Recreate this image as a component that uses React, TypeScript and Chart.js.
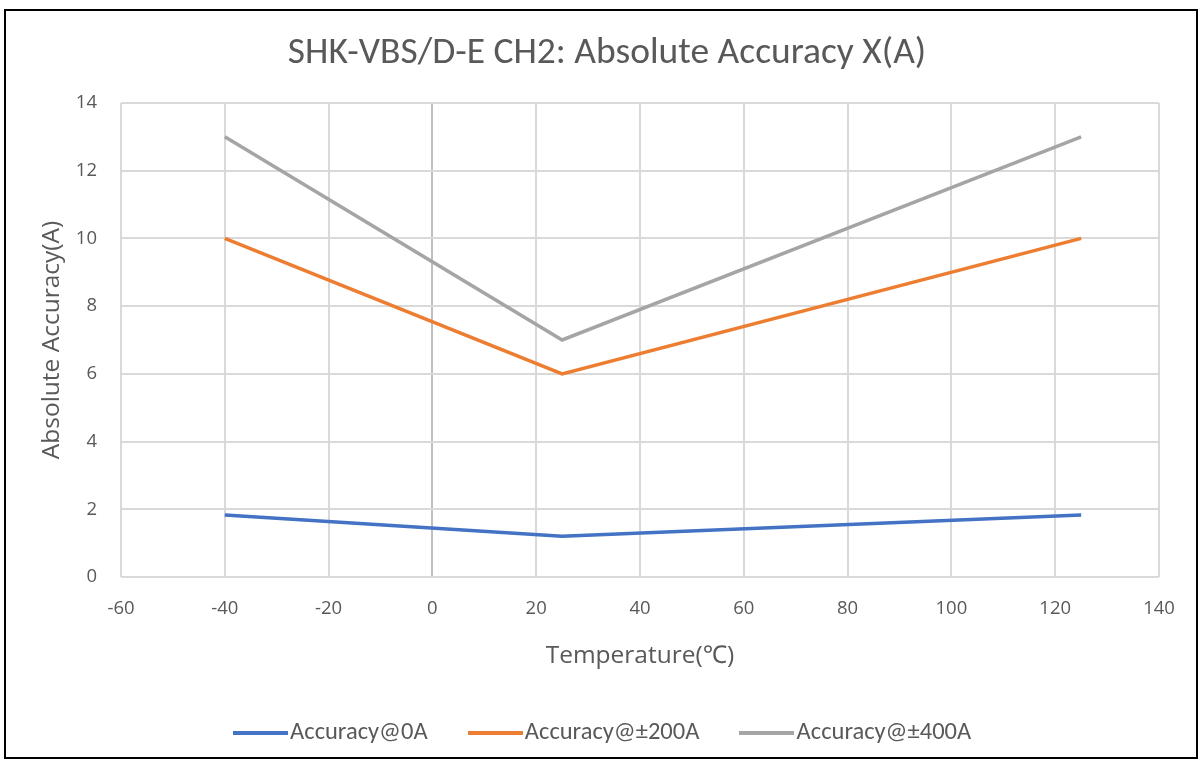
import React, { useEffect, useRef } from "react";
import { Chart, registerables } from "chart.js";

Chart.register(...registerables);

const chartTitle = "SHK-VBS/D-E CH2: Absolute Accuracy X(A)";
const xAxisTitle = "Temperature(℃)";
const yAxisTitle = "Absolute Accuracy(A)";
const temperatures = [-40, 25, 125];
const seriesNames = ["Accuracy@0A", "Accuracy@±200A", "Accuracy@±400A"];
const acc0A = [1.83, 1.2, 1.83];
const acc200A = [10, 6, 10];
const acc400A = [13, 7, 13];
const seriesColors = ["#4472C4", "#ED7D31", "#A5A5A5"];

const TEXT = "#595959";
const GRID = "#d9d9d9";
const TITLE_FONT = "Carlito, Lato, sans-serif";
const TICK_FONT = "'Open Sans', 'Noto Sans', sans-serif";

const frame = {
  id: "frame",
  afterDraw(chart: any) {
    const c = chart.ctx;
    c.save();
    c.strokeStyle = "#000";
    c.lineWidth = 2;
    c.strokeRect(5, 10, 1192, 748);
    c.restore();
  },
};

function makeSwatch(color: string) {
  const c = document.createElement("canvas");
  c.width = 55;
  c.height = 4;
  const g = c.getContext("2d");
  if (g) {
    g.fillStyle = color;
    g.fillRect(0, 0, 55, 4);
  }
  return c;
}

export default function App() {
  const ref = useRef<HTMLCanvasElement | null>(null);
  useEffect(() => {
    if (!ref.current) return;
    const all = [acc0A, acc200A, acc400A];
    const swatches = seriesColors.map(makeSwatch);
    const chart = new Chart(ref.current, {
      type: "line",
      data: {
        datasets: all.map((vals, i) => ({
          label: seriesNames[i],
          data: temperatures.map((t, j) => ({ x: t, y: vals[j] })),
          borderColor: seriesColors[i],
          backgroundColor: seriesColors[i],
          borderWidth: 3.5,
          pointRadius: 0,
          tension: 0,
        })),
      },
      options: {
        responsive: false,
        animation: false,
        layout: { padding: { top: 12, left: 16, right: 2, bottom: 9.75 } },
        plugins: {
          title: {
            display: true,
            text: chartTitle,
            color: TEXT,
            font: { family: TITLE_FONT, size: 37.5, weight: "normal" },
            padding: { top: 19, bottom: 27 },
          },
          legend: {
            position: "bottom",
            labels: {
              color: TEXT,
              font: { family: TITLE_FONT, size: 24.5 },
              usePointStyle: true,
              pointStyleWidth: 35,
              padding: 50,
              generateLabels: (ch: any) =>
                Chart.defaults.plugins.legend.labels
                  .generateLabels(ch)
                  .map((it: any) => ({ ...it, pointStyle: swatches[it.datasetIndex] })),
            },
          },
          tooltip: { enabled: false },
        },
        scales: {
          x: {
            type: "linear",
            min: -60,
            max: 140,
            ticks: {
              stepSize: 20,
              color: TEXT,
              font: { family: TICK_FONT, size: 18.5 },
              padding: 21,
            },
            grid: {
              drawTicks: false,
              lineWidth: 2,
              color: (ctx: any) => (ctx.tick && ctx.tick.value === 0 ? "#bfbfbf" : GRID),
            },
            border: { display: false },
            title: {
              display: true,
              text: xAxisTitle,
              color: TEXT,
              font: { family: TICK_FONT, size: 24.5 },
              padding: { top: 0, bottom: 0 },
            },
            afterFit: (s: any) => {
              s.height = 93.75;
              s.paddingRight = 41;
            },
          },
          y: {
            min: 0,
            max: 14,
            ticks: {
              stepSize: 2,
              color: TEXT,
              font: { family: TICK_FONT, size: 18.5 },
              padding: 24,
            },
            grid: { drawTicks: false, lineWidth: 2, color: GRID },
            border: { display: false },
            title: {
              display: true,
              text: yAxisTitle,
              color: TEXT,
              font: { family: TICK_FONT, size: 24.5 },
              padding: { top: 21, bottom: 0 },
            },
            afterFit: (s: any) => {
              s.width = 105;
            },
          },
        },
      },
      plugins: [frame],
    });
    return () => chart.destroy();
  }, []);
  return (
    <div style={{ position: "absolute", left: 0, top: 0, width: 1200, height: 765, background: "#fff" }}>
      <canvas ref={ref} width={1200} height={765} />
    </div>
  );
}
